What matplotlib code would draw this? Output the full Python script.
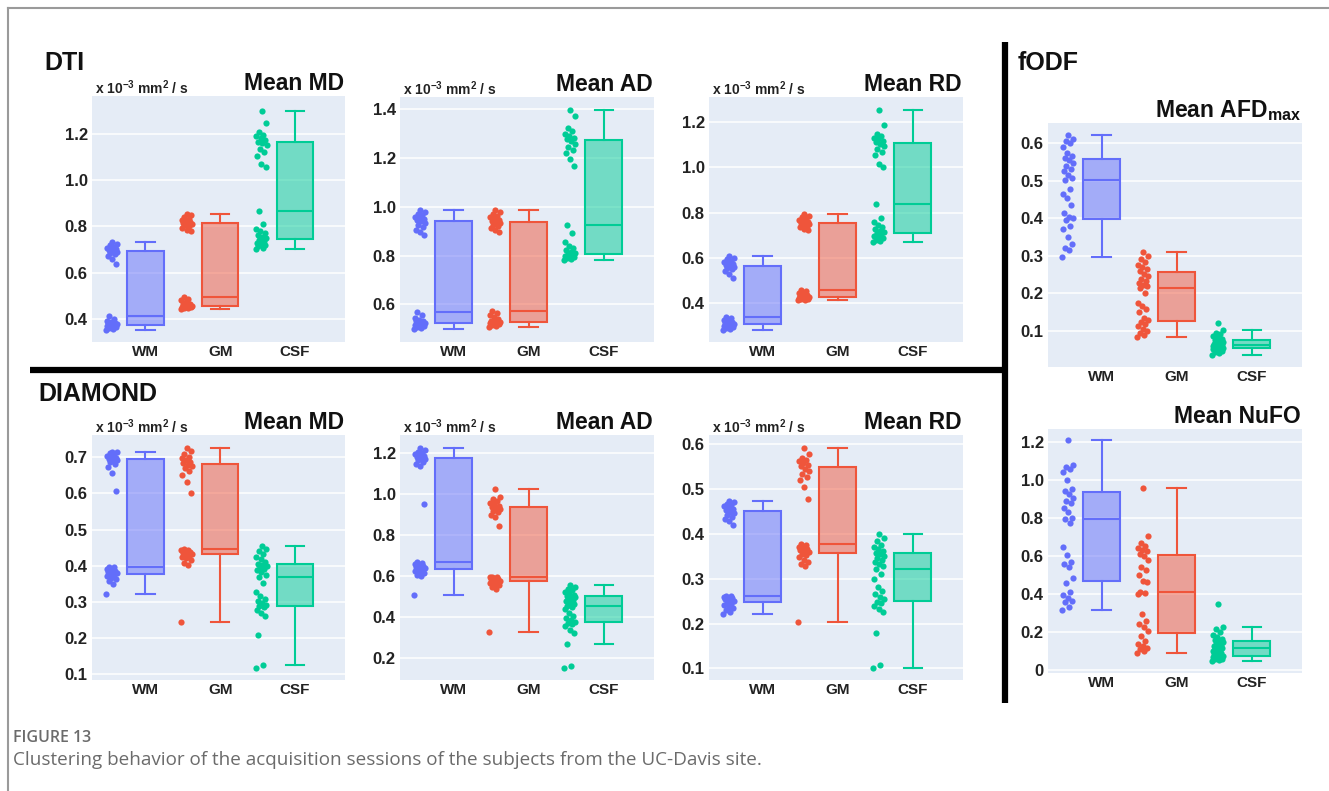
import numpy as np
import matplotlib
matplotlib.use("Agg")
import matplotlib.pyplot as plt
from matplotlib.lines import Line2D

plt.rcParams['font.family'] = ['Liberation Sans', 'DejaVu Sans']
plt.rcParams['mathtext.fontset'] = 'custom'
plt.rcParams['mathtext.rm'] = 'Liberation Sans:bold'
plt.rcParams['mathtext.it'] = 'Liberation Sans:bold'
plt.rcParams['mathtext.bf'] = 'Liberation Sans:bold'

# ---- data (one value per acquisition session) ----
categories = ["WM", "GM", "CSF"]

# DTI
dti_md_wm = [0.353, 0.358, 0.362, 0.365, 0.368, 0.370, 0.372, 0.375, 0.377, 0.379, 0.381, 0.384, 0.388, 0.392, 0.400, 0.413,
             0.636, 0.660, 0.672, 0.680, 0.686, 0.690, 0.693, 0.697, 0.700, 0.703, 0.707, 0.712, 0.718, 0.725, 0.731]
dti_md_gm = [0.444, 0.446, 0.448, 0.450, 0.452, 0.454, 0.456, 0.457, 0.458, 0.460, 0.463, 0.467, 0.472, 0.480, 0.488, 0.493,
             0.778, 0.785, 0.792, 0.800, 0.806, 0.810, 0.813, 0.816, 0.820, 0.824, 0.828, 0.833, 0.840, 0.847, 0.854]
dti_md_csf = [0.703, 0.708, 0.713, 0.718, 0.722, 0.728, 0.735, 0.741, 0.748, 0.755, 0.762, 0.770, 0.778, 0.789, 0.811, 0.864,
              1.054, 1.070, 1.105, 1.120, 1.135, 1.150, 1.160, 1.165, 1.172, 1.180, 1.188, 1.195, 1.208, 1.247, 1.297]

dti_ad_wm = [0.498, 0.503, 0.507, 0.511, 0.514, 0.517, 0.520, 0.522, 0.524, 0.527, 0.530, 0.534, 0.538, 0.545, 0.555, 0.567,
             0.882, 0.895, 0.905, 0.915, 0.925, 0.932, 0.940, 0.944, 0.948, 0.953, 0.958, 0.964, 0.970, 0.978, 0.986]
dti_ad_gm = [0.509, 0.512, 0.515, 0.518, 0.520, 0.522, 0.524, 0.525, 0.527, 0.530, 0.534, 0.540, 0.548, 0.556, 0.566, 0.574,
             0.895, 0.903, 0.912, 0.920, 0.927, 0.933, 0.937, 0.941, 0.946, 0.951, 0.957, 0.963, 0.970, 0.978, 0.986]
dti_ad_csf = [0.782, 0.785, 0.789, 0.793, 0.797, 0.800, 0.803, 0.806, 0.810, 0.815, 0.822, 0.830, 0.840, 0.856, 0.891, 0.925,
              1.168, 1.195, 1.220, 1.232, 1.245, 1.258, 1.268, 1.276, 1.283, 1.290, 1.298, 1.308, 1.322, 1.370, 1.396]

dti_rd_wm = [0.283, 0.287, 0.291, 0.294, 0.297, 0.300, 0.303, 0.306, 0.309, 0.312, 0.315, 0.318, 0.322, 0.327, 0.334, 0.341,
             0.512, 0.530, 0.542, 0.550, 0.556, 0.561, 0.565, 0.568, 0.572, 0.576, 0.581, 0.587, 0.594, 0.601, 0.608]
dti_rd_gm = [0.415, 0.417, 0.419, 0.421, 0.423, 0.424, 0.425, 0.426, 0.428, 0.430, 0.433, 0.437, 0.442, 0.448, 0.454, 0.459,
             0.722, 0.728, 0.735, 0.740, 0.745, 0.750, 0.753, 0.756, 0.760, 0.764, 0.769, 0.774, 0.780, 0.787, 0.793]
dti_rd_csf = [0.669, 0.675, 0.680, 0.686, 0.692, 0.698, 0.704, 0.710, 0.714, 0.720, 0.728, 0.736, 0.745, 0.760, 0.774, 0.837,
              1.000, 1.015, 1.055, 1.068, 1.080, 1.092, 1.104, 1.110, 1.116, 1.122, 1.130, 1.138, 1.148, 1.185, 1.251]

# DIAMOND
dia_md_wm = [0.322, 0.348, 0.358, 0.363, 0.367, 0.370, 0.373, 0.377, 0.379, 0.381, 0.383, 0.386, 0.389, 0.392, 0.395, 0.397,
             0.608, 0.658, 0.672, 0.682, 0.688, 0.692, 0.694, 0.696, 0.699, 0.702, 0.705, 0.708, 0.711, 0.714, 0.716]
dia_md_gm = [0.245, 0.402, 0.408, 0.415, 0.420, 0.424, 0.428, 0.430, 0.432, 0.434, 0.436, 0.438, 0.440, 0.442, 0.444, 0.446,
             0.600, 0.633, 0.650, 0.662, 0.670, 0.676, 0.680, 0.684, 0.688, 0.692, 0.697, 0.702, 0.710, 0.718, 0.725]
dia_md_csf = [0.116, 0.125, 0.208, 0.259, 0.270, 0.278, 0.284, 0.288, 0.290, 0.296, 0.302, 0.308, 0.315, 0.328, 0.352, 0.368,
              0.375, 0.382, 0.387, 0.392, 0.396, 0.400, 0.402, 0.405, 0.410, 0.418, 0.425, 0.432, 0.440, 0.446, 0.453]

dia_ad_wm = [0.506, 0.598, 0.605, 0.612, 0.618, 0.623, 0.628, 0.631, 0.635, 0.639, 0.643, 0.648, 0.653, 0.658, 0.663, 0.668,
             0.950, 1.135, 1.145, 1.155, 1.162, 1.168, 1.174, 1.178, 1.183, 1.188, 1.193, 1.199, 1.205, 1.212, 1.221]
dia_ad_gm = [0.327, 0.535, 0.545, 0.553, 0.560, 0.566, 0.570, 0.573, 0.576, 0.579, 0.582, 0.585, 0.588, 0.591, 0.593, 0.595,
             0.842, 0.885, 0.898, 0.908, 0.916, 0.923, 0.930, 0.936, 0.942, 0.948, 0.955, 0.963, 0.972, 0.985, 1.021]
dia_ad_csf = [0.148, 0.160, 0.267, 0.318, 0.335, 0.352, 0.362, 0.368, 0.376, 0.384, 0.392, 0.405, 0.420, 0.435, 0.445, 0.452,
              0.460, 0.468, 0.475, 0.482, 0.488, 0.494, 0.497, 0.500, 0.506, 0.512, 0.520, 0.528, 0.537, 0.546, 0.556]

dia_rd_wm = [0.221, 0.226, 0.230, 0.234, 0.238, 0.241, 0.244, 0.247, 0.250, 0.252, 0.254, 0.256, 0.258, 0.260, 0.261, 0.262,
             0.420, 0.428, 0.434, 0.438, 0.442, 0.446, 0.450, 0.453, 0.456, 0.459, 0.462, 0.465, 0.468, 0.471, 0.474]
dia_rd_gm = [0.204, 0.328, 0.333, 0.338, 0.343, 0.348, 0.352, 0.355, 0.359, 0.362, 0.365, 0.367, 0.370, 0.372, 0.375, 0.377,
             0.479, 0.506, 0.520, 0.528, 0.535, 0.540, 0.546, 0.552, 0.555, 0.558, 0.562, 0.566, 0.570, 0.578, 0.591]
dia_rd_csf = [0.100, 0.107, 0.178, 0.225, 0.232, 0.240, 0.245, 0.248, 0.254, 0.260, 0.266, 0.272, 0.282, 0.300, 0.310, 0.322,
              0.328, 0.333, 0.338, 0.342, 0.346, 0.350, 0.355, 0.358, 0.362, 0.366, 0.370, 0.375, 0.385, 0.392, 0.400]

# fODF
afd_wm = [0.297, 0.315, 0.320, 0.330, 0.351, 0.372, 0.380, 0.394, 0.400, 0.402, 0.415, 0.435, 0.455, 0.465, 0.478, 0.502,
          0.508, 0.515, 0.525, 0.532, 0.540, 0.548, 0.555, 0.560, 0.565, 0.575, 0.590, 0.600, 0.605, 0.612, 0.622]
afd_gm = [0.084, 0.088, 0.093, 0.098, 0.105, 0.112, 0.118, 0.124, 0.128, 0.135, 0.150, 0.158, 0.165, 0.175, 0.200, 0.213,
          0.218, 0.222, 0.228, 0.232, 0.238, 0.245, 0.252, 0.260, 0.265, 0.270, 0.276, 0.282, 0.290, 0.300, 0.311]
afd_csf = [0.035, 0.040, 0.043, 0.046, 0.048, 0.050, 0.051, 0.052, 0.054, 0.055, 0.056, 0.057, 0.058, 0.059, 0.060, 0.062,
           0.063, 0.064, 0.065, 0.066, 0.068, 0.070, 0.074, 0.076, 0.078, 0.081, 0.085, 0.090, 0.095, 0.102, 0.120]

nufo_wm = [0.315, 0.330, 0.355, 0.365, 0.380, 0.395, 0.410, 0.455, 0.482, 0.540, 0.555, 0.570, 0.605, 0.648, 0.771, 0.792,
           0.797, 0.832, 0.850, 0.876, 0.890, 0.905, 0.925, 0.943, 0.950, 0.999, 1.042, 1.055, 1.068, 1.077, 1.210]
nufo_gm = [0.088, 0.100, 0.110, 0.118, 0.125, 0.135, 0.150, 0.180, 0.205, 0.225, 0.240, 0.260, 0.295, 0.400, 0.405, 0.412,
           0.462, 0.470, 0.500, 0.525, 0.540, 0.580, 0.600, 0.610, 0.625, 0.632, 0.640, 0.650, 0.668, 0.705, 0.955]
nufo_csf = [0.045, 0.050, 0.055, 0.060, 0.065, 0.068, 0.072, 0.074, 0.076, 0.080, 0.085, 0.090, 0.095, 0.100, 0.108, 0.114,
            0.118, 0.122, 0.128, 0.132, 0.138, 0.145, 0.150, 0.158, 0.165, 0.175, 0.185, 0.200, 0.215, 0.228, 0.345]

ticks_dti_md = [0.4, 0.6, 0.8, 1.0, 1.2]
ticks_dti_ad = [0.6, 0.8, 1.0, 1.2, 1.4]
ticks_dti_rd = [0.4, 0.6, 0.8, 1.0, 1.2]
ticks_dia_md = [0.1, 0.2, 0.3, 0.4, 0.5, 0.6, 0.7]
ticks_dia_ad = [0.2, 0.4, 0.6, 0.8, 1.0, 1.2]
ticks_dia_rd = [0.1, 0.2, 0.3, 0.4, 0.5, 0.6]
ticks_afd = [0.1, 0.2, 0.3, 0.4, 0.5, 0.6]
ticks_nufo = [0, 0.2, 0.4, 0.6, 0.8, 1.0, 1.2]

units = r"x 10$^{-3}$ mm$^{2}$ / s"
colors = ["#636EFA", "#EF553B", "#00CC96"]
bg = "#E5ECF6"

W, H = 1329, 791
fig = plt.figure(figsize=(W / 100, H / 100), dpi=100)
fig.patch.set_facecolor("white")


def fx(x):
    return x / W


def fy(y):
    return 1 - y / H


# panel boxes in pixels: left, top, right, bottom
panels = [
    ([dti_md_wm, dti_md_gm, dti_md_csf], (92, 96, 345, 342), (0.301, 1.362), ticks_dti_md, "Mean MD", True),
    ([dti_ad_wm, dti_ad_gm, dti_ad_csf], (400, 97, 654, 342), (0.446, 1.449), ticks_dti_ad, "Mean AD", True),
    ([dti_rd_wm, dti_rd_gm, dti_rd_csf], (709, 97, 963, 342), (0.23, 1.309), ticks_dti_rd, "Mean RD", True),
    ([dia_md_wm, dia_md_gm, dia_md_csf], (92, 435, 345, 680), (0.083, 0.762), ticks_dia_md, "Mean MD", True),
    ([dia_ad_wm, dia_ad_gm, dia_ad_csf], (400, 435, 654, 680), (0.091, 1.286), ticks_dia_ad, "Mean AD", True),
    ([dia_rd_wm, dia_rd_gm, dia_rd_csf], (709, 435, 963, 680), (0.074, 0.621), ticks_dia_rd, "Mean RD", True),
    ([afd_wm, afd_gm, afd_csf], (1048, 123, 1302, 367), (0.003, 0.654), ticks_afd, r"Mean AFD$_{\mathrm{max}}$", False),
    ([nufo_wm, nufo_gm, nufo_csf], (1048, 429, 1302, 673), (-0.016, 1.267), ticks_nufo, "Mean NuFO", False),
]

for groups, (l, t, r, b), ylim, ticks, title, show_units in panels:
    ax = fig.add_axes([fx(l), fy(b), fx(r) - fx(l), fy(t) - fy(b)])
    ax.set_facecolor(bg)
    ax.set_axisbelow(True)
    for s in ax.spines.values():
        s.set_visible(False)
    pos = np.arange(len(categories))
    for i, vals in enumerate(groups):
        bp = ax.boxplot([vals], positions=[pos[i]], widths=0.49, patch_artist=True,
                        showfliers=False, whis=1.5, manage_ticks=False)
        c = colors[i]
        for p in bp["boxes"]:
            p.set_facecolor(matplotlib.colors.to_rgba(c, 0.5))
            p.set_edgecolor(c)
            p.set_linewidth(1.5)
        for k in ("whiskers", "caps", "medians"):
            for ln in bp[k]:
                ln.set_color(c)
                ln.set_linewidth(1.5)
        n = len(vals)
        jit = ((np.arange(n) * 0.6180339887) % 1.0 - 0.5) * 0.15
        ax.scatter(pos[i] - 0.45 + jit, vals, s=20, color=c, linewidths=0, zorder=3)
    ax.set_xlim(-0.715, 2.67)
    ax.set_ylim(*ylim)
    ax.set_yticks(ticks)
    ax.set_yticklabels(["0" if v == 0 else f"{v:.1f}" for v in ticks])
    ax.set_xticks(pos)
    ax.set_xticklabels(categories)
    ax.tick_params(axis="both", length=0, colors="#222222")
    ax.tick_params(axis="y", labelsize=12, pad=3)
    ax.tick_params(axis="x", labelsize=11, pad=2)
    for lab in ax.get_xticklabels() + ax.get_yticklabels():
        lab.set_fontweight("bold")
    ax.yaxis.grid(True, color="white", linewidth=1.1)
    ax.xaxis.grid(False)
    fig.text(fx(r - 1), fy(t - 6), title, ha="right", va="baseline",
             fontsize=16.5, fontweight="bold", color="#111111")
    if show_units:
        fig.text(fx(l + 3), fy(t - 2), units, ha="left", va="baseline",
                 fontsize=10, fontweight="bold", color="#222222")

# section headers
fig.text(fx(44), fy(70), "DTI", fontsize=18, fontweight="bold", ha="left", va="baseline", color="#111111")
fig.text(fx(38), fy(401), "DIAMOND", fontsize=18, fontweight="bold", ha="left", va="baseline", color="#111111")
fig.text(fx(1018), fy(70), "fODF", fontsize=18, fontweight="bold", ha="left", va="baseline", color="#111111")

# separators
fig.add_artist(Line2D([fx(30), fx(1005)], [fy(370), fy(370)], color="black", linewidth=4.5,
                      transform=fig.transFigure, solid_capstyle="butt"))
fig.add_artist(Line2D([fx(1005), fx(1005)], [fy(42), fy(703)], color="black", linewidth=4.5,
                      transform=fig.transFigure, solid_capstyle="butt"))

# outer frame
fig.add_artist(Line2D([fx(8), fx(W)], [fy(8), fy(8)], color="#9a9a9a", linewidth=1.5,
                      transform=fig.transFigure))
fig.add_artist(Line2D([fx(8), fx(8)], [fy(8), fy(H)], color="#9a9a9a", linewidth=1.5,
                      transform=fig.transFigure))

# caption
fig.text(fx(13), fy(742), "FIGURE 13", fontsize=11.5, color="#6b6b6b", ha="left", va="baseline",
         family=["Open Sans", "DejaVu Sans"], fontweight="semibold")
fig.text(fx(13), fy(765), "Clustering behavior of the acquisition sessions of the subjects from the UC-Davis site.",
         fontsize=13.6, color="#6b6b6b", ha="left", va="baseline", family=["Open Sans", "DejaVu Sans"])

fig.savefig("out.png", dpi=100)
